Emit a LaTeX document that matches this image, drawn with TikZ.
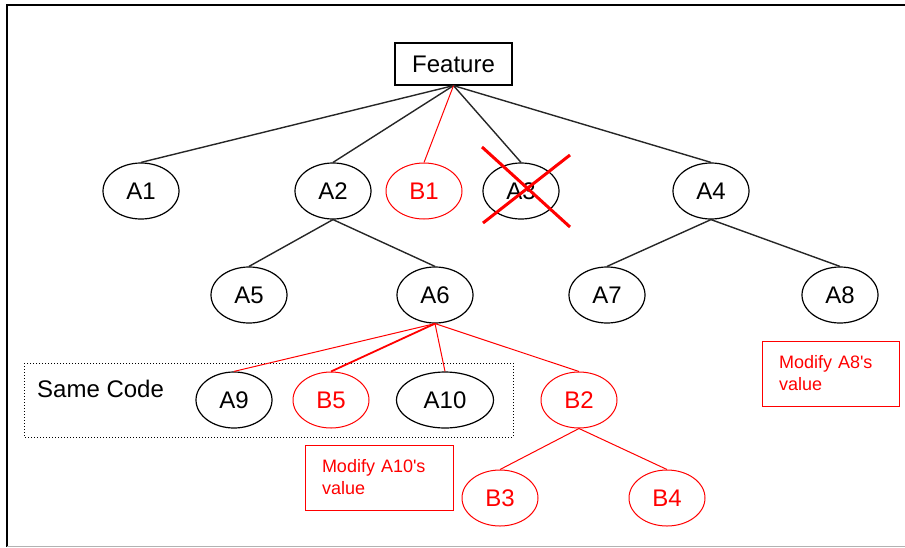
\documentclass[tikz,border=0pt]{standalone}
\usepackage{fontspec}
\setmainfont{Liberation Sans}
\usetikzlibrary{shapes.geometric}

\begin{document}
\begin{tikzpicture}[x=1pt, y=-1pt,
  part/.style={ellipse, draw, line width=1.2pt, inner sep=0pt,
    minimum width=76pt, minimum height=56pt,
    font=\fontsize{24}{28}\selectfont},
  newpart/.style={part, draw=red, text=red, line width=1pt},
  link/.style={line width=1.4pt, draw=black!85},
  newlink/.style={line width=1pt, draw=red},
  note/.style={draw=red, text=red, line width=1pt, align=left,
    minimum height=65pt, inner xsep=17pt,
    font=\fontsize{18}{22}\selectfont}]
  \useasboundingbox (0,0) rectangle (905,547);

  % Frame
  \draw[line width=1.5pt] (905,5) -- (7,5) -- (7,547);
  \draw[gray!60, line width=1pt] (7,546) -- (905,546);

  % Root
  \node[draw, line width=1.2pt, inner sep=0pt, minimum width=117pt,
    minimum height=42pt, font=\fontsize{24}{28}\selectfont]
    (feature) at (453.5,64) {Feature};

  % First level
  \node[part] (a1) at (141,191) {A1};
  \node[part] (a2) at (333,191) {A2};
  \node[newpart] (b1) at (424,191) {B1};
  \node[part] (a3) at (521,191) {A3};
  \node[part] (a4) at (711,191) {A4};

  % Second level
  \node[part] (a5) at (249,295) {A5};
  \node[part] (a6) at (435,295) {A6};
  \node[part] (a7) at (607,295) {A7};
  \node[part] (a8) at (840,295) {A8};

  % Third level, same code group
  \draw[dotted, line width=1pt] (24,363) rectangle (513,437);
  \node[anchor=base west, inner sep=0pt, font=\fontsize{24}{28}\selectfont]
    (same) at (37,397) {Same Code};
  \node[part] (a9) at (234,400) {A9};
  \node[newpart] (b5) at (331,400) {B5};
  \node[part, minimum width=97pt] (a10) at (445,400) {A10};
  \node[newpart] (b2) at (579,400) {B2};

  % Fourth level
  \node[newpart] (b3) at (500,498) {B3};
  \node[newpart] (b4) at (667,498) {B4};

  % Notes
  \node[note, text width=114pt, minimum width=148pt]
    (note10) at (379,477.5) {Modify A10\textquotesingle s\\value};
  \node[note, text width=103pt, minimum width=137pt]
    (note8) at (830.5,373.5) {Modify A8\textquotesingle s\\value};

  % Links
  \foreach \child in {a1,a2,a3,a4}
    \draw[link] (feature.south) -- (\child.north);
  \draw[newlink] (feature.south) -- (b1.north);
  \draw[link] (a2.south) -- (a5.north);
  \draw[link] (a2.south) -- (a6.north);
  \draw[link] (a4.south) -- (a7.north);
  \draw[link] (a4.south) -- (a8.north);
  \draw[newlink] (a6.south) -- (a9.north);
  \draw[newlink, line width=1.8pt] (a6.south) -- (b5.north);
  \draw[newlink] (a6.south) -- (a10.north);
  \draw[newlink] (a6.south) -- (b2.north);
  \draw[newlink] (b2.south) -- (b3.north);
  \draw[newlink] (b2.south) -- (b4.north);

  % Removed part
  \draw[red, line width=3pt] (482,147) -- (570,227);
  \draw[red, line width=3pt] (570,155) -- (483,223);
\end{tikzpicture}
\end{document}
